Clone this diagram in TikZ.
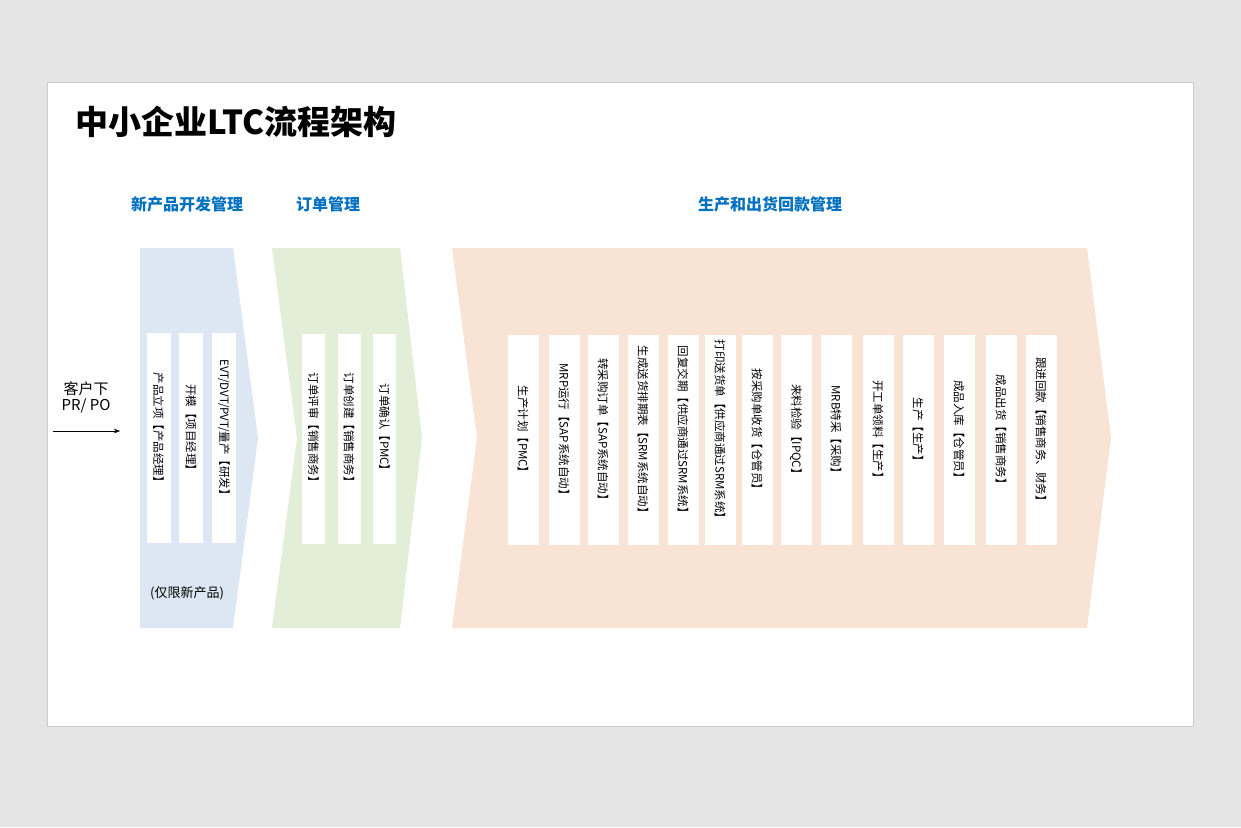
\documentclass[tikz,border=0pt]{standalone}
\usepackage{fontspec}
\setmainfont{Noto Sans CJK SC}
\usetikzlibrary{arrows.meta}
\definecolor{pagegray}{HTML}{E5E5E5}
\definecolor{headblue}{HTML}{0070C0}
\definecolor{devblue}{HTML}{DCE7F3}
\definecolor{ordgreen}{HTML}{E2EED8}
\definecolor{prodorange}{HTML}{F9E3D5}
\tikzset{
  stepcol/.style={fill=white,draw=none,minimum width=#1,minimum height=210pt,inner sep=0pt},
  steptext/.style={rotate=-90,font=\fontsize{11.5}{12}\selectfont,inner sep=0pt},
  heading/.style={font=\bfseries\fontsize{16}{18}\selectfont,text=headblue},
}
\begin{document}
\begin{tikzpicture}[x=1pt,y=-1pt]
\fill[pagegray] (0,0) rectangle (1241,827);
\useasboundingbox (0,0) rectangle (1241,827);
\draw[fill=white,draw=black!20] (47,82) rectangle (1193,726);
\node[anchor=west,font=\bfseries\fontsize{33}{35}\selectfont] (title) at (72,122) {中小企业LTC流程架构};
% section headings
\node[heading] (hdev) at (187,204) {新产品开发管理};
\node[heading] (hord) at (328,204) {订单管理};
\node[heading] (hprod) at (770,204) {生产和出货回款管理};
% chevrons
\fill[devblue] (140,248) -- (233,248) -- (258,438) -- (233,628) -- (140,628) -- cycle;
\fill[ordgreen] (272,248) -- (400,248) -- (422,438) -- (400,628) -- (272,628) -- (297,438) -- cycle;
\fill[prodorange] (452,248) -- (1087,248) -- (1111,438) -- (1087,628) -- (452,628) -- (477,438) -- cycle;
% customer input
\node[align=center,font=\fontsize{15}{16}\selectfont] (cust) at (86,397) {客户下\\PR/ PO};
\coordinate (custstart) at (53,431);
\coordinate (custend) at (120,431);
\draw[-{Stealth[length=6pt]}] (custstart) -- (custend);
\node[font=\fontsize{13}{14}\selectfont] (newonly) at (187,593) {(仅限新产品)};
% new product columns
\foreach \x/\t [count=\i] in {158.5/产品立项【产品经理】,191/开模【项目经理】,224/{EVT/DVT/PVT/量产【研发】}}{
  \node[stepcol=24pt] (dev\i) at (\x,438) {};
  \node[steptext] (devt\i) at (\x,430) {\t};
}
% order columns
\foreach \x/\t [count=\i] in {313.5/订单评审【销售商务】,349/订单创建【销售商务】,384.5/订单确认【PMC】}{
  \node[stepcol=23pt] (ord\i) at (\x,439) {};
  \node[steptext] (ordt\i) at (\x,430) {\t};
}
% production columns
\foreach \x/\t [count=\i] in {523/生产计划【PMC】,564/MRP运行【SAP系统自动】,603/转采购订单【SAP系统自动】,643/生成送货排期表【SRM系统自动】,683/回复交期【供应商通过SRM系统】,720/打印送货单【供应商通过SRM系统】,757/按采购单收货【仓管员】,796/来料检验【IPQC】,836/MRB特采【采购】,878/开工单领料【生产】,918/生产【生产】,959/成品入库【仓管员】,1001/成品出货【销售商务】,1041/跟进回款【销售商务、财务】}{
  \node[stepcol=31pt] (prod\i) at (\x,440) {};
  \node[steptext] (prodt\i) at (\x,432) {\t};
}
\end{tikzpicture}
\end{document}
